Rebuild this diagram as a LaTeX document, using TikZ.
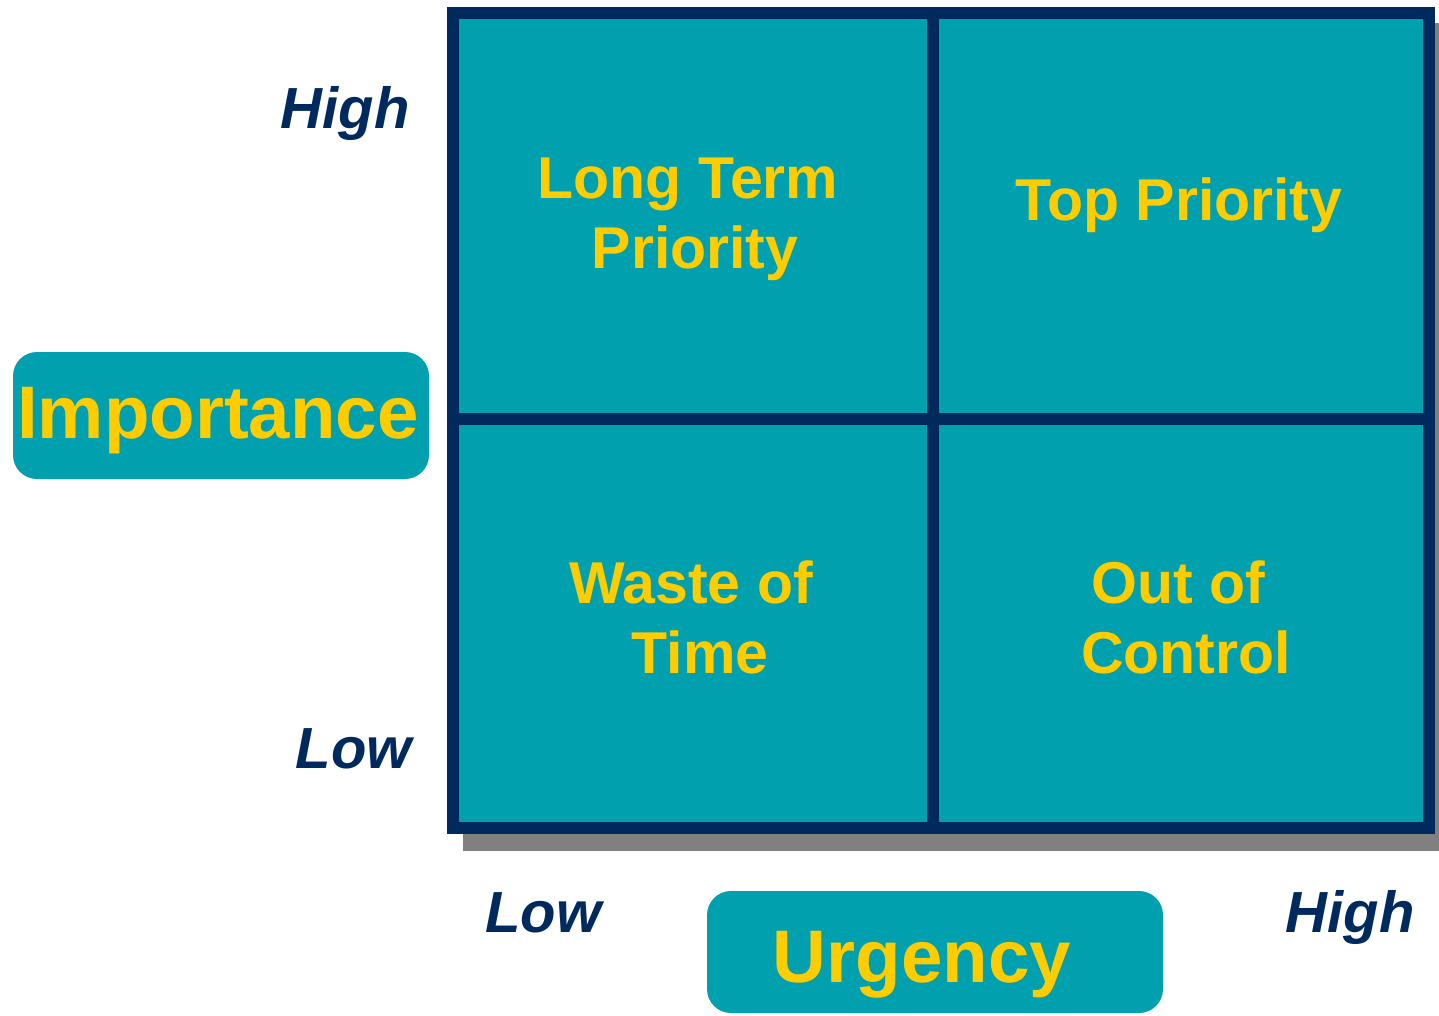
\documentclass[tikz,border=0pt]{standalone}
\usepackage{fontspec}
\setmainfont{Liberation Sans}
\definecolor{tealfill}{HTML}{00A0AF}
\definecolor{navy}{HTML}{002A5E}
\definecolor{gold}{HTML}{FFCC00}
\definecolor{shadowgray}{HTML}{808080}
\begin{document}
\begin{tikzpicture}[x=1pt,y=-1pt,
  quadtext/.style={text=gold,font=\fontsize{59}{70}\selectfont\bfseries,align=center,inner sep=0pt},
  levtext/.style={text=navy,font=\fontsize{58}{70}\selectfont\bfseries\itshape,inner sep=0pt,anchor=base},
  axisbox/.style={fill=tealfill,rounded corners=24pt,draw=none},
  axistext/.style={text=gold,font=\fontsize{74.5}{90}\selectfont\bfseries,inner sep=0pt,anchor=base}]
\useasboundingbox (0,0) rectangle (1439,1015);
% shadow
\fill[shadowgray] (463,23) rectangle (1439,851);
% grid
\fill[tealfill] (453,13) rectangle (1429,828);
\draw[navy,line width=12pt] (453,13) rectangle (1429,828);
\draw[navy,line width=12pt] (933,13) -- (933,828);
\draw[navy,line width=12pt] (453,419) -- (1429,419);
% quadrant labels
\node[quadtext,anchor=base] (ltp1) at (688,198) {Long Term};
\node[quadtext,anchor=base] (ltp2) at (695,268) {Priority};
\node[quadtext,anchor=base] (tp) at (1179,220) {Top Priority};
\node[quadtext,anchor=base] (wt1) at (691,603) {Waste of};
\node[quadtext,anchor=base] (wt2) at (700,673) {Time};
\node[quadtext,anchor=base] (oc1) at (1178,603) {Out of};
\node[quadtext,anchor=base] (oc2) at (1186,673) {Control};
% level labels
\node[levtext,anchor=base east] (ihigh) at (410,128) {High};
\node[levtext,anchor=base east] (ilow) at (412,768) {Low};
\node[levtext,anchor=base west] (ulow) at (485,932) {Low};
\node[levtext,anchor=base east] (uhigh) at (1415,932) {High};
% axis boxes
\fill[axisbox] (13,352) rectangle (429,479);
\node[axistext] (imp) at (218,438) {Importance};
\fill[axisbox] (707,891) rectangle (1163,1013);
\node[axistext] (urg) at (922,982) {Urgency};
\end{tikzpicture}
\end{document}
